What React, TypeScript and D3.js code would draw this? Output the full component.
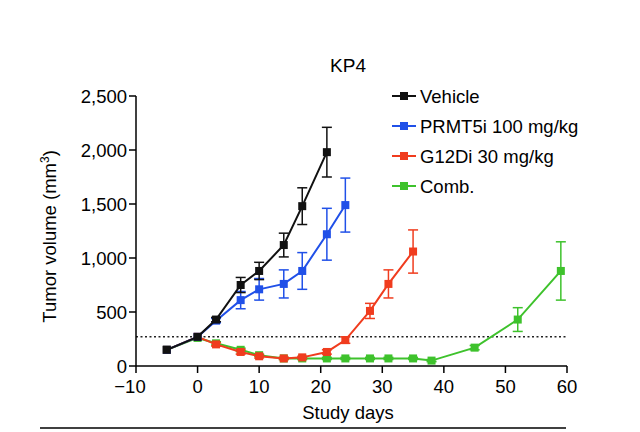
import React from 'react';
import * as d3 from 'd3';

const vehDays = [-5, 0, 3, 7, 10, 14, 17, 21];
const vehVals = [150, 270, 430, 750, 880, 1120, 1480, 1980];
const vehErr = [0, 0, 20, 70, 80, 110, 170, 230];

const prmDays = [-5, 0, 3, 7, 10, 14, 17, 21, 24];
const prmVals = [150, 270, 420, 610, 710, 760, 880, 1220, 1490];
const prmErr = [0, 0, 20, 80, 100, 130, 170, 240, 250];

const g12Days = [-5, 0, 3, 7, 10, 14, 17, 21, 24, 28, 31, 35];
const g12Vals = [150, 270, 200, 130, 90, 70, 80, 130, 240, 510, 760, 1060];
const g12Err = [0, 0, 15, 20, 15, 10, 10, 20, 30, 70, 130, 200];

const combDays = [-5, 0, 3, 7, 10, 14, 17, 21, 24, 28, 31, 35, 38, 45, 52, 59];
const combVals = [150, 260, 210, 150, 100, 70, 70, 70, 70, 70, 70, 70, 50, 170, 430, 880];
const combErr = [0, 0, 15, 15, 10, 10, 10, 10, 10, 10, 10, 10, 10, 20, 110, 270];

const xTicks = [-10, 0, 10, 20, 30, 40, 50, 60];
const yTicks = [0, 500, 1000, 1500, 2000, 2500];
const threshold = 270;

const series = [
  { name: 'Vehicle', color: '#111111', days: vehDays, vals: vehVals, err: vehErr },
  { name: 'PRMT5i 100 mg/kg', color: '#2050e8', days: prmDays, vals: prmVals, err: prmErr },
  { name: 'G12Di 30 mg/kg', color: '#f03c1e', days: g12Days, vals: g12Vals, err: g12Err },
  { name: 'Comb.', color: '#3ec22c', days: combDays, vals: combVals, err: combErr },
];

export default function App() {
  const font = 'Helvetica, Arial, "Liberation Sans", sans-serif';
  const x = d3.scaleLinear().domain([-10, 60]).range([136, 567]);
  const y = d3.scaleLinear().domain([0, 2500]).range([366, 96]);
  const line = d3.line<number[]>().x(d => x(d[0])).y(d => y(d[1]));
  const fmt = d3.format(',');
  const fs = 18.5;
  const order = [...series].reverse();
  return (
    <svg width={640} height={432} style={{ position: 'absolute', left: 0, top: 0, background: '#fff' }} fontFamily={font}>
      <text x={348} y={72} fontSize={19} textAnchor="middle">KP4</text>
      <line x1={x(-10)} x2={x(60)} y1={y(threshold)} y2={y(threshold)} stroke="#222" strokeWidth={1.5} strokeDasharray="2,2.5" />
      {order.map(s => (
        <g key={s.name}>
          {s.days.map((d, i) => s.err[i] > 0 && (
            <g key={i} stroke={s.color} strokeWidth={1.5}>
              <line x1={x(d)} x2={x(d)} y1={y(s.vals[i] - s.err[i])} y2={y(s.vals[i] + s.err[i])} />
              <line x1={x(d) - 5} x2={x(d) + 5} y1={y(s.vals[i] + s.err[i])} y2={y(s.vals[i] + s.err[i])} />
              <line x1={x(d) - 5} x2={x(d) + 5} y1={y(s.vals[i] - s.err[i])} y2={y(s.vals[i] - s.err[i])} />
            </g>
          ))}
          <path d={line(s.days.map((d, i) => [d, s.vals[i]])) || ''} fill="none" stroke={s.color} strokeWidth={2} />
          {s.days.map((d, i) => (
            <rect key={i} x={x(d) - 4} y={y(s.vals[i]) - 4} width={8} height={8} fill={s.color} />
          ))}
        </g>
      ))}
      <g stroke="#000" strokeWidth={1.5}>
        <line x1={x(-10)} x2={x(60)} y1={366} y2={366} />
        <line x1={x(-10)} x2={x(-10)} y1={y(0)} y2={y(2500)} />
        {xTicks.map(t => <line key={t} x1={x(t)} x2={x(t)} y1={366} y2={373} />)}
        {yTicks.map(t => <line key={t} x1={x(-10) - 7} x2={x(-10)} y1={y(t)} y2={y(t)} />)}
      </g>
      {xTicks.map(t => (
        <text key={t} x={x(t) - (t < 0 ? 6 : 0)} y={393} fontSize={fs} textAnchor="middle">{t < 0 ? '\u2212' + Math.abs(t) : t}</text>
      ))}
      {yTicks.map(t => (
        <text key={t} x={x(-10) - 9} y={y(t) + 7} fontSize={fs} textAnchor="end">{fmt(t)}</text>
      ))}
      <text x={348} y={419} fontSize={fs} textAnchor="middle">Study days</text>
      <text transform={`translate(56,${y(1200)}) rotate(-90)`} fontSize={fs} textAnchor="middle">
        Tumor volume (mm<tspan dy={-7} fontSize={12}>3</tspan><tspan dy={7}>)</tspan>
      </text>
      {series.map((s, i) => (
        <g key={s.name} transform={`translate(392,${96 + i * 30})`}>
          <line x1={0} x2={24} y1={0} y2={0} stroke={s.color} strokeWidth={2} />
          <rect x={8} y={-4} width={8} height={8} fill={s.color} />
          <text x={28} y={7} fontSize={fs}>{s.name}</text>
        </g>
      ))}
      <line x1={40} x2={566} y1={428} y2={428} stroke="#000" strokeWidth={1.5} />
    </svg>
  );
}
